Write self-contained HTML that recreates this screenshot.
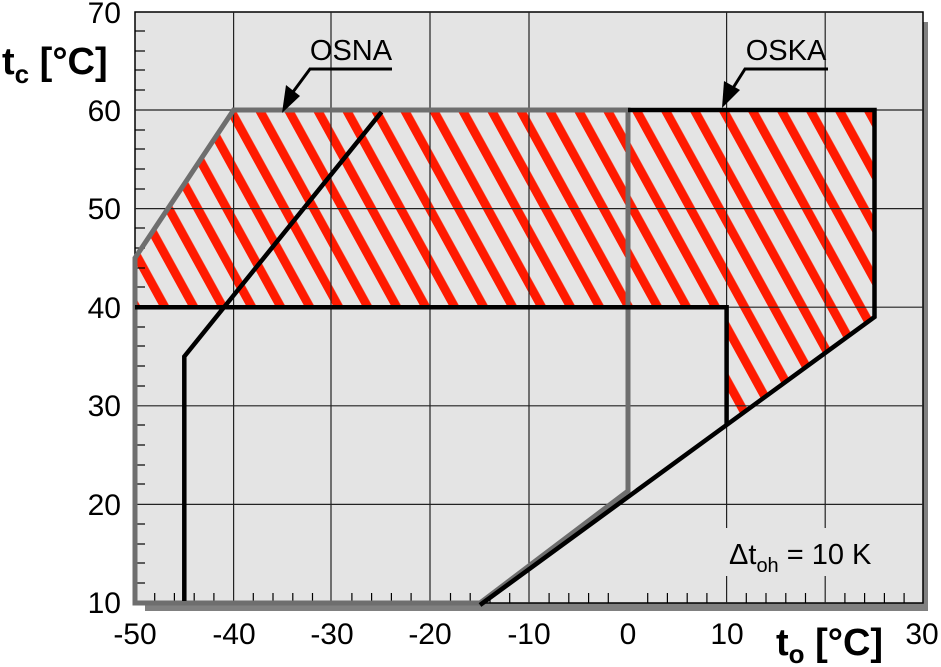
<!DOCTYPE html>
<html><head><meta charset="utf-8"><style>
html,body{margin:0;padding:0;background:#fff;}
svg{display:block;font-family:"Liberation Sans",Arial,sans-serif;}
</style></head><body>
<svg width="941" height="667" viewBox="0 0 941 667" xmlns="http://www.w3.org/2000/svg">
<defs>
<pattern id="h" patternUnits="userSpaceOnUse" width="25.4" height="60" patternTransform="translate(430,113) rotate(-28.8)">
<rect x="0" y="0" width="8.8" height="60" fill="#ff1a00"/>
</pattern>
</defs>
<rect x="145" y="22" width="783" height="589" fill="#808080"/>
<rect x="135" y="12" width="788" height="591" fill="#e4e4e4" stroke="#000" stroke-width="1.5"/>
<polygon points="135,307 135,258 233.6,110 874.5,110 874.5,317 726.6,424.5 726.6,307" fill="url(#h)"/>
<g stroke="#222" stroke-width="1.2">
<line x1="233.6" y1="12" x2="233.6" y2="603"/>
<line x1="331" y1="12" x2="331" y2="603"/>
<line x1="430" y1="12" x2="430" y2="603"/>
<line x1="529" y1="12" x2="529" y2="603"/>
<line x1="726.6" y1="12" x2="726.6" y2="603"/>
<line x1="825.2" y1="12" x2="825.2" y2="603"/>
<line x1="135" y1="110" x2="923" y2="110"/>
<line x1="135" y1="208.6" x2="923" y2="208.6"/>
<line x1="135" y1="307.2" x2="923" y2="307.2"/>
<line x1="135" y1="405.8" x2="923" y2="405.8"/>
<line x1="135" y1="504.4" x2="923" y2="504.4"/>
</g>
<g stroke="#000" stroke-width="1.2">
<line x1="135" y1="31" x2="145" y2="31"/><line x1="135" y1="51" x2="145" y2="51"/><line x1="135" y1="70" x2="145" y2="70"/><line x1="135" y1="90" x2="145" y2="90"/>
<line x1="135" y1="130" x2="145" y2="130"/><line x1="135" y1="149" x2="145" y2="149"/><line x1="135" y1="169" x2="145" y2="169"/><line x1="135" y1="189" x2="145" y2="189"/>
<line x1="135" y1="228" x2="145" y2="228"/><line x1="135" y1="248" x2="145" y2="248"/><line x1="135" y1="268" x2="145" y2="268"/><line x1="135" y1="287" x2="145" y2="287"/>
<line x1="135" y1="327" x2="145" y2="327"/><line x1="135" y1="346" x2="145" y2="346"/><line x1="135" y1="366" x2="145" y2="366"/><line x1="135" y1="386" x2="145" y2="386"/>
<line x1="135" y1="425" x2="145" y2="425"/><line x1="135" y1="445" x2="145" y2="445"/><line x1="135" y1="465" x2="145" y2="465"/><line x1="135" y1="484" x2="145" y2="484"/>
<line x1="135" y1="524" x2="145" y2="524"/><line x1="135" y1="544" x2="145" y2="544"/><line x1="135" y1="563" x2="145" y2="563"/><line x1="135" y1="583" x2="145" y2="583"/>
</g>
<g stroke="#000" stroke-width="1.2">
<line x1="154.7" y1="593" x2="154.7" y2="603"/><line x1="174.4" y1="593" x2="174.4" y2="603"/><line x1="194.2" y1="593" x2="194.2" y2="603"/><line x1="213.9" y1="593" x2="213.9" y2="603"/>
<line x1="253.3" y1="593" x2="253.3" y2="603"/><line x1="273" y1="593" x2="273" y2="603"/><line x1="292.8" y1="593" x2="292.8" y2="603"/><line x1="312.5" y1="593" x2="312.5" y2="603"/>
<line x1="351.9" y1="593" x2="351.9" y2="603"/><line x1="371.6" y1="593" x2="371.6" y2="603"/><line x1="391.4" y1="593" x2="391.4" y2="603"/><line x1="411.1" y1="593" x2="411.1" y2="603"/>
<line x1="450.5" y1="593" x2="450.5" y2="603"/><line x1="470.2" y1="593" x2="470.2" y2="603"/><line x1="490" y1="593" x2="490" y2="603"/><line x1="509.7" y1="593" x2="509.7" y2="603"/>
<line x1="549.1" y1="593" x2="549.1" y2="603"/><line x1="568.8" y1="593" x2="568.8" y2="603"/><line x1="588.6" y1="593" x2="588.6" y2="603"/><line x1="608.3" y1="593" x2="608.3" y2="603"/>
<line x1="647.7" y1="593" x2="647.7" y2="603"/><line x1="667.4" y1="593" x2="667.4" y2="603"/><line x1="687.2" y1="593" x2="687.2" y2="603"/><line x1="706.9" y1="593" x2="706.9" y2="603"/>
<line x1="746.3" y1="593" x2="746.3" y2="603"/><line x1="766" y1="593" x2="766" y2="603"/><line x1="785.8" y1="593" x2="785.8" y2="603"/><line x1="805.5" y1="593" x2="805.5" y2="603"/>
<line x1="844.9" y1="593" x2="844.9" y2="603"/><line x1="864.6" y1="593" x2="864.6" y2="603"/><line x1="884.4" y1="593" x2="884.4" y2="603"/><line x1="904.1" y1="593" x2="904.1" y2="603"/>
</g>
<rect x="712" y="528" width="172" height="48" fill="#e4e4e4"/>
<polyline points="480,603 135,603 135,258 233.6,110 628,110 628,491 480,603" fill="none" stroke="#6e6e6e" stroke-width="5" stroke-linejoin="miter"/>
<g fill="none" stroke="#000" stroke-width="4.5" stroke-linejoin="miter">
<polyline points="184.3,601 184.3,356.5 381.5,112"/>
<polyline points="135,307.2 726.6,307.2 726.6,424.5"/>
<polyline points="628,110 874.5,110 874.5,317 480,605"/>
</g>
<g fill="none" stroke="#000" stroke-width="3">
<polyline points="392,69 310,69 293,92"/>
<polyline points="828,69 745,69 733,88"/>
</g>
<polygon points="282,113 286,85 300,96" fill="#000"/>
<polygon points="722,108 724,81 740,90" fill="#000"/>
<g font-size="29" fill="#000">
<text x="351" y="60" text-anchor="middle">OSNA</text>
<text x="786" y="60" text-anchor="middle">OSKA</text>
<text x="729" y="564">Δt<tspan font-size="20" dy="8">oh</tspan><tspan dy="-8"> = 10 K</tspan></text>
</g>
<g font-size="30" fill="#000" text-anchor="end">
<text x="121" y="23">70</text>
<text x="121" y="121">60</text>
<text x="121" y="219">50</text>
<text x="121" y="318">40</text>
<text x="121" y="416">30</text>
<text x="121" y="515">20</text>
<text x="121" y="613">10</text>
</g>
<g font-size="30" fill="#000" text-anchor="middle">
<text x="135" y="644">-50</text>
<text x="234" y="644">-40</text>
<text x="332" y="644">-30</text>
<text x="430" y="644">-20</text>
<text x="529" y="644">-10</text>
<text x="628" y="644">0</text>
<text x="727" y="644">10</text>
<text x="922" y="644">30</text>
</g>
<text x="2" y="74" font-size="38" font-weight="bold">t<tspan font-size="26" dy="9">c</tspan><tspan dy="-9"> [°C]</tspan></text>
<text x="776" y="655" font-size="38" font-weight="bold">t<tspan font-size="26" dy="8">o</tspan><tspan dy="-8"> [°C]</tspan></text>
</svg>
</body></html>
